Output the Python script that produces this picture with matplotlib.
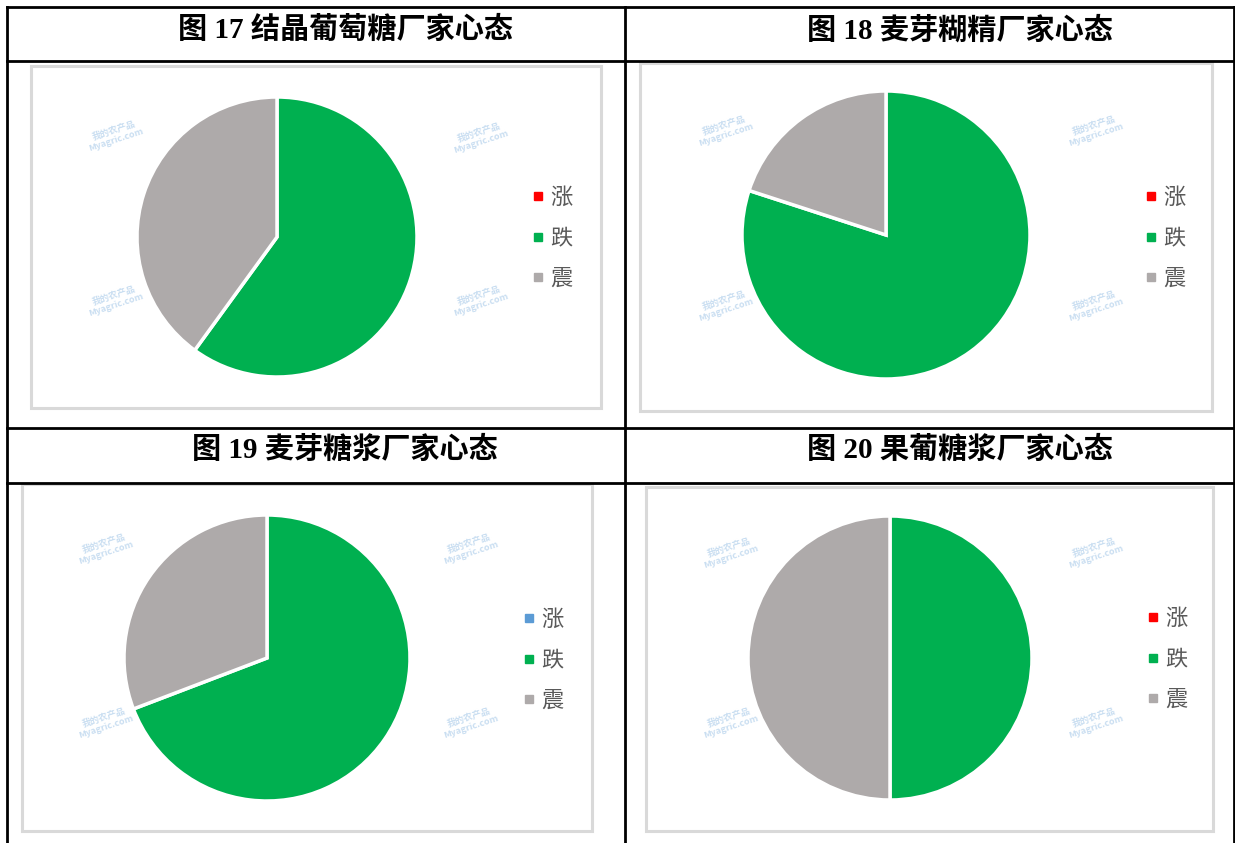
import matplotlib.pyplot as plt
from matplotlib.lines import Line2D
from matplotlib.patches import Rectangle

plt.rcParams['font.family'] = ['Noto Sans CJK SC', 'DejaVu Sans']

W, H = 1235, 843

titles = ['图 17 结晶葡萄糖厂家心态', '图 18 麦芽糊精厂家心态',
          '图 19 麦芽糖浆厂家心态', '图 20 果葡糖浆厂家心态']
labels = ['涨', '跌', '震']
# share of producers (%): up / down / flat
crystal_glucose = [0, 60, 40]
maltodextrin = [0, 80, 20]
maltose_syrup = [0, 69.2, 30.8]
hfcs = [0, 50, 50]
series = [crystal_glucose, maltodextrin, maltose_syrup, hfcs]
colors_red = ['#FF0000', '#00B050', '#AEAAAA']
colors_blue = ['#5B9BD5', '#00B050', '#AEAAAA']
palettes = [colors_red, colors_red, colors_blue, colors_red]

# layout in pixels
boxes = [(31, 66, 601, 408), (640, 63, 1212, 411), (22, 484, 592, 831), (646, 487, 1213, 831)]
centers = [(277, 237, 140), (886, 235, 144), (267, 658, 143), (890, 658, 142)]
legend_pos = [(537, 238), (1150, 238), (528, 660), (1152, 659)]
title_pos = [(345, 30), (960, 30), (345, 450), (960, 450)]
marks = [[(115, 135), (480, 137), (115, 300), (480, 300)],
         [(725, 130), (1095, 130), (725, 305), (1095, 305)],
         [(105, 548), (470, 548), (105, 722), (470, 722)],
         [(730, 552), (1095, 552), (730, 722), (1095, 722)]]

fig = plt.figure(figsize=(W / 100, H / 100), dpi=100)

def fx(x):
    return x / W

def fy(y):
    return 1 - y / H

# table grid
for x in [7, 625, 1234]:
    fig.add_artist(Line2D([fx(x), fx(x)], [fy(7), fy(843)], color='black', lw=2))
for y in [7, 61, 428, 483]:
    fig.add_artist(Line2D([fx(7), fx(1234)], [fy(y), fy(y)], color='black', lw=2))

for i in range(4):
    x0, y0, x1, y1 = boxes[i]
    fig.add_artist(Rectangle((fx(x0), fy(y1)), fx(x1) - fx(x0), fy(y0) - fy(y1),
                             fill=False, edgecolor='#D9D9D9', lw=2.2))

    tx, ty = title_pos[i]
    fig.text(fx(tx), fy(ty), titles[i], ha='center', va='center', fontsize=21,
             fontweight='bold', family=['Liberation Serif', 'Noto Sans CJK SC'])

    for (mx, my) in marks[i]:
        fig.text(fx(mx), fy(my), '我的农产品\nMyagric.com', ha='center', va='center',
                 fontsize=6.5, color='#9DC3E6', alpha=0.55, rotation=18,
                 fontweight='bold', linespacing=1.0)

    cx, cy, r = centers[i]
    ax = fig.add_axes([fx(cx - r), fy(cy + r), 2 * r / W, 2 * r / H])
    ax.pie(series[i], colors=palettes[i], startangle=90, counterclock=False,
           wedgeprops=dict(edgecolor='white', linewidth=2.5))
    ax.set_xlim(-1, 1)
    ax.set_ylim(-1, 1)
    ax.axis('off')

    lx, ly = legend_pos[i]
    handles = [Line2D([], [], marker='s', linestyle='none', markersize=6,
                      markerfacecolor=c, markeredgecolor=c) for c in palettes[i]]
    fig.legend(handles, labels, loc='center left', bbox_to_anchor=(fx(lx - 5), fy(ly)),
               frameon=False, fontsize=16, labelcolor='#595959', handlelength=0.5,
               handletextpad=0.3, labelspacing=0.78, borderpad=0, borderaxespad=0)

fig.savefig('out.png', dpi=100, facecolor='white')
